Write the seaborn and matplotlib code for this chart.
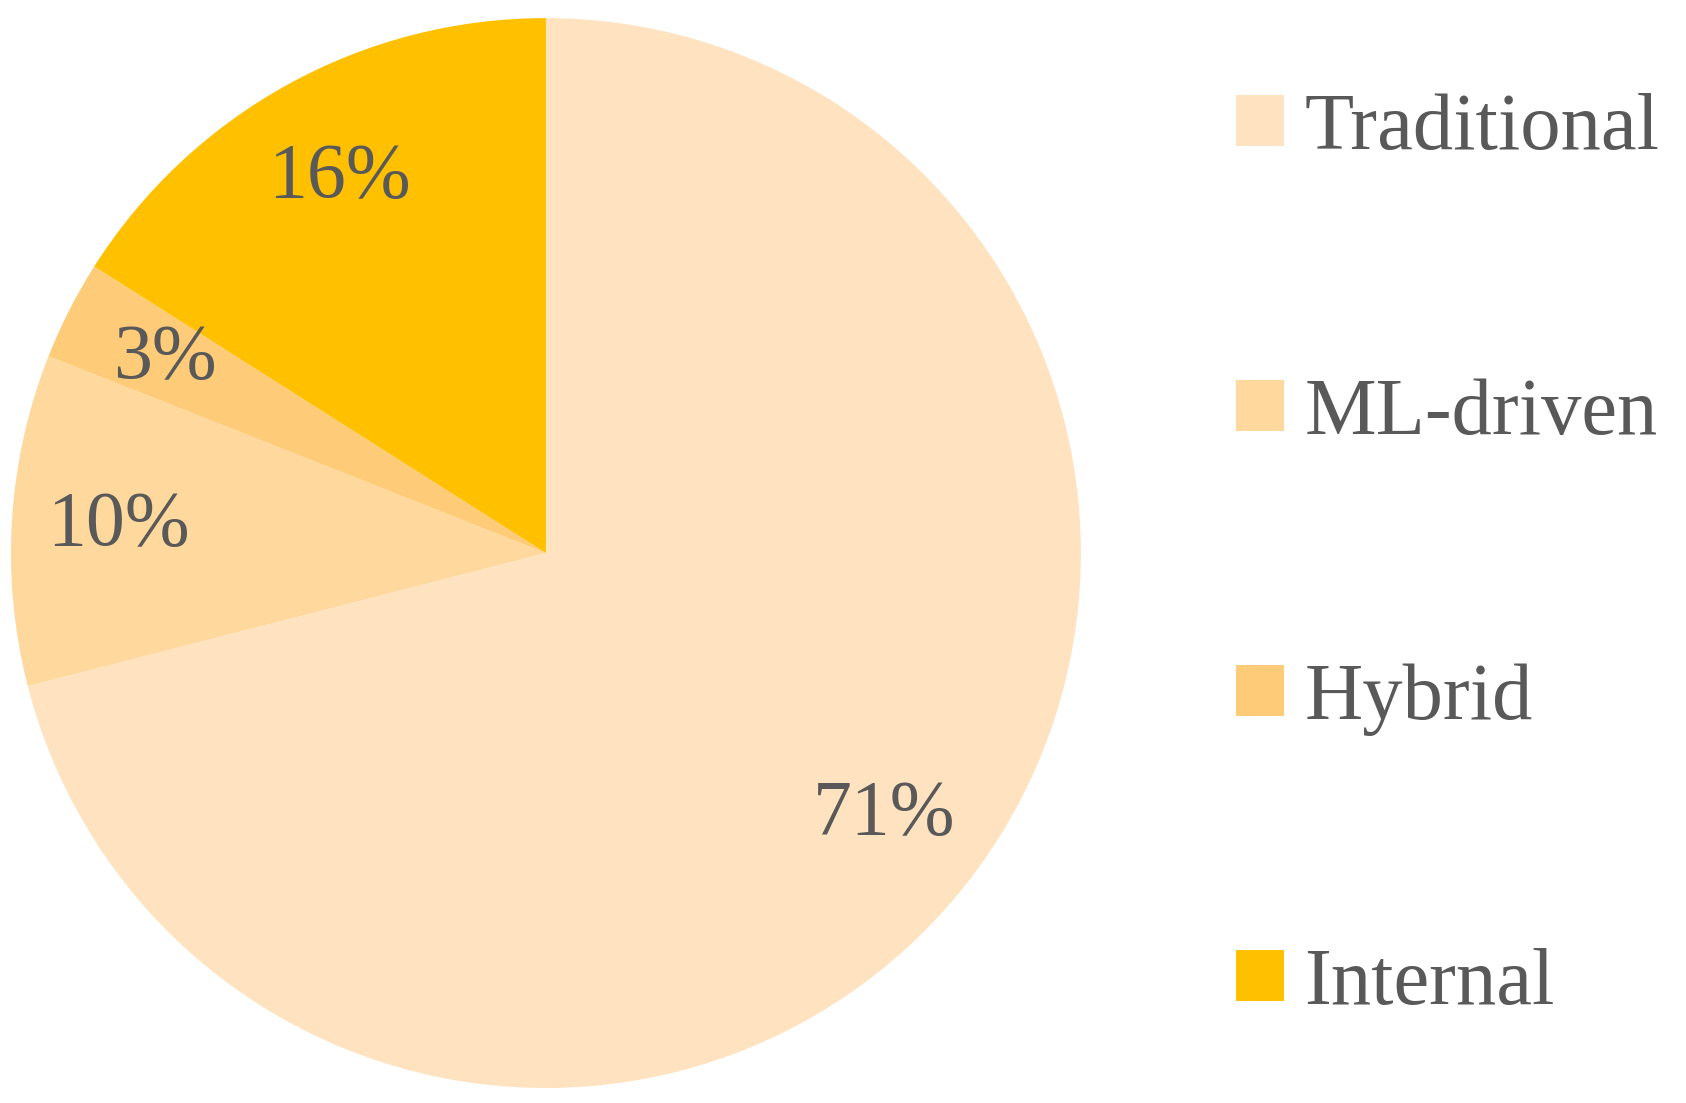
import matplotlib
matplotlib.use("Agg")
import matplotlib.pyplot as plt
import seaborn as sns

# data
labels = ["Traditional", "ML-driven", "Hybrid", "Internal"]
shares = [71, 10, 3, 16]
colors = ["#FFE3C0", "#FED89C", "#FECC78", "#FFC000"]
text_color = "#595959"

sns.set_theme(style="white")
plt.rcParams["font.family"] = ["Liberation Serif", "DejaVu Serif"]

fig = plt.figure(figsize=(16.86, 11.03), dpi=100)
ax = fig.add_axes([0.0065, 0.0136, 0.6346, 0.970])

wedges, texts, autotexts = ax.pie(
    shares,
    colors=colors,
    startangle=90,
    counterclock=False,
    autopct="%d%%",
    pctdistance=0.8,
    wedgeprops=dict(linewidth=0),
    textprops=dict(color=text_color, fontsize=56),
)
ax.set_xlim(-1, 1)
ax.set_ylim(-1, 1)
ax.set_aspect("equal")
ax.axis("off")

fig.legend(
    wedges, labels,
    loc="center left",
    bbox_to_anchor=(0.733, 0.495),
    frameon=False,
    fontsize=58,
    labelcolor=text_color,
    handlelength=0.6,
    handleheight=0.6,
    handletextpad=0.25,
    labelspacing=2.63,
    borderpad=0,
    borderaxespad=0,
)

fig.savefig("out.png", dpi=100, facecolor="white")
